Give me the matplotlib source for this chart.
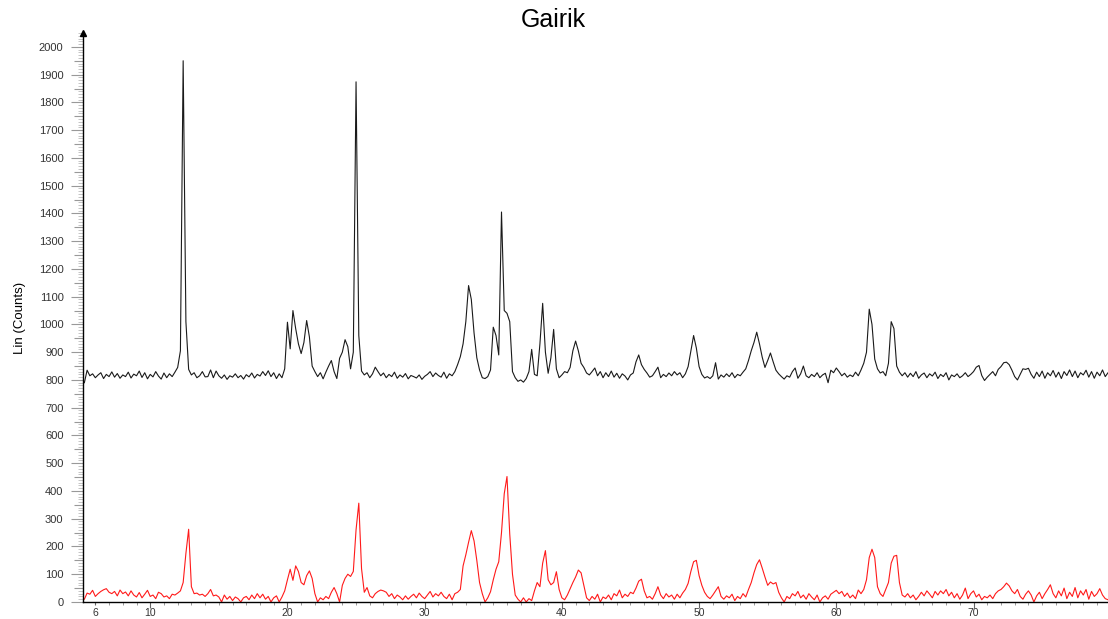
import numpy as np
import matplotlib.pyplot as plt
from matplotlib.ticker import MultipleLocator

plt.rcParams['font.family'] = ['Liberation Sans', 'DejaVu Sans']

# scan grid, 2-theta in degrees (0.2 deg steps, 5.2 .. 80.0)
two_theta = np.round(np.arange(5.2, 80.01, 0.2), 1)

# upper pattern (black), one row per degree
counts_black = [
    790, 835, 815, 822, 808,
    818, 826, 805, 820, 812,
    829, 810, 823, 806, 818,
    812, 828, 807, 821, 815,
    832, 809, 826, 804, 820,
    811, 830, 814, 803, 825,
    808, 822, 812, 828, 845,
    905, 1950, 1010, 838, 818,
    826, 808, 815, 830, 811,
    812, 836, 808, 832, 815,
    806, 818, 802, 815, 810,
    822, 808, 816, 803, 819,
    811, 825, 807, 820, 814,
    830, 816, 833, 812, 826,
    805, 822, 808, 840, 1008,
    912, 1050, 985, 930, 895,
    935, 1014, 955, 850, 830,
    812, 826, 804, 828, 850,
    870, 830, 805, 878, 900,
    945, 920, 840, 900, 1874,
    960, 832, 818, 826, 808,
    822, 846, 830, 815, 825,
    808, 820, 812, 828, 806,
    818, 810, 823, 804, 816,
    812, 807, 818, 802, 813,
    820, 830, 812, 825, 816,
    810, 828, 806, 822, 815,
    830, 855, 884, 930, 1010,
    1140, 1090, 969, 880, 836,
    808, 805, 812, 836, 990,
    960, 890, 1405, 1050, 1040,
    1010, 830, 808, 795, 800,
    792, 805, 830, 910, 820,
    815, 930, 1076, 900, 824,
    880, 982, 840, 808, 818,
    830, 826, 845, 905, 940,
    905, 860, 845, 825, 818,
    830, 843, 815, 830, 808,
    826, 812, 832, 810, 824,
    806, 822, 814, 800, 818,
    825, 865, 890, 855, 838,
    825, 810, 815, 830, 846,
    808, 820, 812, 825, 815,
    830, 818, 826, 808, 822,
    848, 905, 960, 915, 848,
    820, 807, 812, 805, 815,
    862, 803, 818, 810, 822,
    812, 826, 808, 820, 815,
    828, 840, 870, 905, 935,
    972, 930, 882, 845, 870,
    897, 865, 835, 822, 812,
    803, 815, 810, 830, 843,
    806, 822, 850, 815, 808,
    820, 812, 826, 808, 818,
    824, 790, 835, 826, 843,
    830, 815, 824, 810, 818,
    812, 828, 815, 836, 860,
    900, 1055, 1000, 875, 840,
    825, 830, 815, 860, 1010,
    985, 850, 828, 815, 826,
    810, 824, 812, 830, 806,
    818, 825, 808, 822, 814,
    828, 805, 820, 812, 826,
    800, 818, 812, 822, 808,
    815, 826, 812, 820, 830,
    846, 852, 816, 798, 810,
    820, 830, 815, 838, 848,
    862, 864, 855, 835, 812,
    800, 820, 840, 838, 842,
    820, 806, 828, 812, 832,
    806, 826, 815, 834, 810,
    828, 805, 830, 816, 836,
    812, 832, 808, 826, 818,
    835, 810, 830, 806, 828,
    815, 836, 812, 826, 820,
]

# lower pattern (red)
counts_red = [
    10, 32, 28, 42, 20,
    30, 38, 44, 48, 35,
    30, 38, 22, 43, 30,
    36, 22, 40, 25, 18,
    34, 15, 28, 42, 20,
    25, 12, 35, 30, 18,
    22, 12, 28, 25, 32,
    40, 70, 175, 262, 55,
    30, 32, 25, 28, 20,
    30, 45, 22, 25, 18,
    0, 25, 10, 20, 5,
    18, 12, 0, 15, 20,
    8, 25, 12, 30, 15,
    28, 10, 20, 0, 15,
    22, 0, 18, 40, 80,
    118, 78, 130, 110, 70,
    62, 95, 112, 85, 30,
    0, 15, 8, 20, 12,
    35, 52, 30, 0, 60,
    85, 100, 92, 110, 260,
    356, 120, 35, 52, 22,
    15, 30, 38, 43, 40,
    35, 20, 30, 12, 25,
    18, 8, 22, 10, 20,
    28, 15, 32, 20, 12,
    25, 38, 18, 30, 22,
    35, 20, 12, 28, 8,
    30, 35, 45, 130, 170,
    215, 257, 220, 150, 70,
    30, 0, 15, 37, 80,
    118, 145, 250, 390, 452,
    245, 100, 25, 10, 0,
    15, 0, 12, 5, 40,
    70, 55, 140, 185, 80,
    62, 70, 109, 45, 15,
    8, 25, 48, 70, 90,
    115, 105, 60, 15, 5,
    20, 10, 28, 0, 18,
    12, 25, 8, 30, 22,
    43, 15, 28, 20, 35,
    30, 50, 75, 82, 40,
    15, 20, 10, 30, 55,
    25, 12, 30, 18, 25,
    10, 28, 15, 32, 45,
    67, 110, 145, 150, 95,
    60, 35, 20, 12, 25,
    40, 55, 20, 10, 22,
    15, 28, 5, 20, 12,
    30, 18, 45, 70, 105,
    135, 152, 122, 90, 60,
    72, 65, 70, 35, 15,
    0, 20, 12, 30, 22,
    38, 15, 25, 10, 30,
    18, 8, 25, 0, 15,
    22, 10, 28, 35, 42,
    30, 38, 20, 32, 15,
    25, 12, 43, 30, 45,
    80, 160, 190, 160, 55,
    30, 20, 45, 70, 140,
    165, 168, 70, 25, 18,
    30, 15, 25, 8, 20,
    35, 22, 40, 28, 15,
    38, 25, 40, 30, 45,
    22, 35, 15, 30, 10,
    25, 50, 12, 30, 40,
    18, 28, 8, 20, 15,
    25, 12, 30, 40, 45,
    55, 68, 58, 40, 30,
    45, 20, 10, 28, 40,
    25, 0, 22, 35, 12,
    30, 45, 62, 30, 15,
    40, 22, 50, 12, 35,
    20, 52, 15, 40, 25,
    45, 10, 38, 20, 30,
    48, 25, 12, 8, 15,
]

x_ticks = [6, 10, 20, 30, 40, 50, 60, 70]

fig = plt.figure(figsize=(11.08, 6.19), dpi=100)
ax = fig.add_axes((0.0749, 0.0275, 0.9251, 0.9192))

ax.plot(two_theta, counts_black, color="#1a1a1a", lw=0.8)
ax.plot(two_theta, counts_red, color="#ff1a1a", lw=0.8)

ax.set_xlim(5.1, 79.8)
ax.set_ylim(0, 2050)

for s in ["top", "right"]:
    ax.spines[s].set_visible(False)
ax.spines["left"].set_linewidth(1.0)
ax.spines["bottom"].set_linewidth(1.0)

# y axis: labels every 100, ticks every 50 and 10
ax.set_yticks(np.arange(0, 2001, 50))
ax.set_yticklabels([str(v) if v % 100 == 0 else "" for v in range(0, 2001, 50)])
ax.yaxis.set_minor_locator(MultipleLocator(10))
ax.tick_params(axis="y", which="major", length=9, width=0.8, color="#999999",
               labelsize=8, labelcolor="#333333", pad=5)
ax.tick_params(axis="y", which="minor", length=3.6, width=0.6, color="#bbbbbb")
for t, v in zip(ax.yaxis.get_major_ticks(), range(0, 2001, 50)):
    if v % 100:
        t.tick1line.set_markersize(6.5)

# x axis
ax.set_xticks(x_ticks)
ax.set_xticklabels([str(v) for v in x_ticks])
ax.xaxis.set_minor_locator(MultipleLocator(1))
ax.tick_params(axis="x", which="major", length=4, width=0.8, color="#666666",
               labelsize=7.5, labelcolor="#333333", pad=0.5)
ax.tick_params(axis="x", which="minor", length=2.5, width=0.6, color="#888888")
ax.xaxis.get_major_ticks()[0].tick1line.set_markersize(2.5)

# arrow head on the y axis
ax.plot(0, 1, marker="^", color="black", markersize=4, transform=ax.transAxes,
        clip_on=False)

ax.set_ylabel("Lin (Counts)", fontsize=9.5, labelpad=9)
fig.text(0.499, 0.968, "Gairik", ha="center", va="center", fontsize=18)

fig.savefig("out.png", dpi=100)
